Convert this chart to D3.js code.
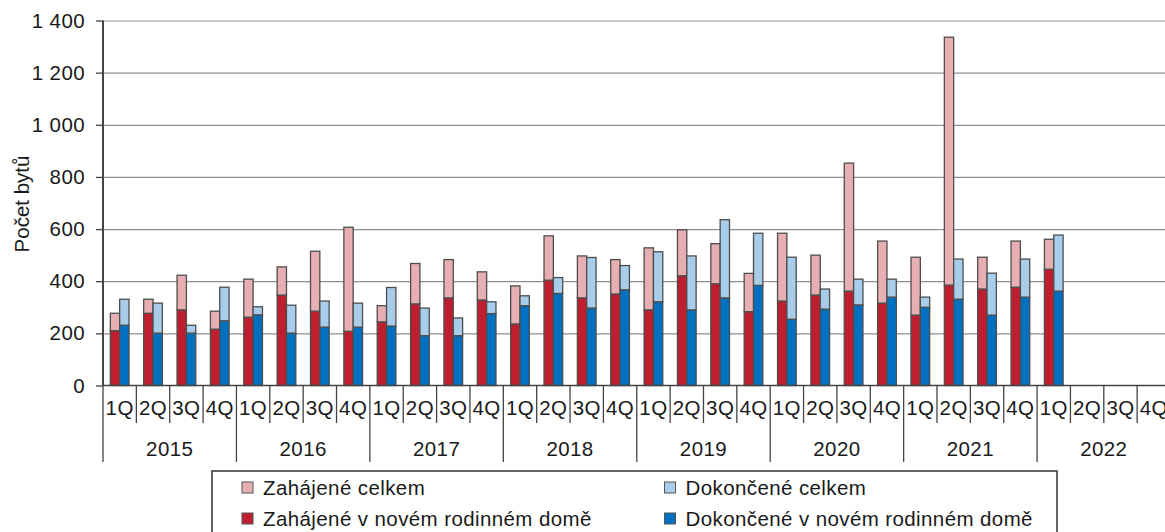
<!DOCTYPE html>
<html>
<head>
<meta charset="utf-8">
<script src="https://cdn.jsdelivr.net/npm/d3@7"></script>
<style>
  html, body { margin: 0; padding: 0; background: #fff; }
  svg text { font-family: "Liberation Sans", Arial, sans-serif; fill: #1a1a1a; }
</style>
</head>
<body>
<svg id="chart" width="1165" height="532"></svg>
<script>
/* ---------------- DATA ---------------- */
const years = ["2015", "2016", "2017", "2018", "2019", "2020", "2021", "2022"];
const quarterLabels = ["1Q", "2Q", "3Q", "4Q"];
const yTicks = [0, 200, 400, 600, 800, 1000, 1200, 1400];

// Zahájené celkem
const startedTotal = [
  277, 331, 423, 285,
  408, 455, 515, 607,
  306, 468, 483, 436,
  382, 574, 497, 483,
  528, 597, 544, 430,
  584, 500, 853, 554,
  492, 1336, 492, 554,
  561, null, null, null
];
// Zahájené v novém rodinném domě
const startedHouse = [
  210, 277, 290, 216,
  262, 347, 285, 208,
  244, 313, 336, 328,
  236, 404, 336, 351,
  290, 421, 390, 283,
  324, 347, 362, 316,
  270, 385, 370, 377,
  446, null, null, null
];
// Dokončené celkem
const finishedTotal = [
  331, 316, 231, 377,
  302, 308, 324, 316,
  376, 297, 259, 321,
  344, 414, 491, 460,
  513, 497, 636, 584,
  492, 370, 408, 408,
  339, 485, 431, 485,
  577, null, null, null
];
// Dokončené v novém rodinném domě
const finishedHouse = [
  231, 201, 201, 248,
  271, 201, 224, 224,
  228, 191, 191, 276,
  306, 353, 297, 367,
  321, 290, 336, 384,
  254, 293, 309, 339,
  300, 331, 270, 339,
  362, null, null, null
];

const legendItems = [
  { label: "Zahájené celkem", color: "#e8afb3", col: 0, row: 0 },
  { label: "Dokončené celkem", color: "#a7cdea", col: 1, row: 0 },
  { label: "Zahájené v novém rodinném domě", color: "#be1e2d", col: 0, row: 1 },
  { label: "Dokončené v novém rodinném domě", color: "#0070c0", col: 1, row: 1 }
];

/* ---------------- SETUP ---------------- */
const svg = d3.select("#chart");
const plotLeft = 103, plotTop = 20.5, plotBottom = 385.5;
const slotCount = years.length * 4;
const plotRight = plotLeft + slotCount * 33.36;   // plot runs past the window edge
const fontSize = "20.5px";

const slots = d3.range(slotCount);
const x0 = d3.scaleBand().domain(slots).range([plotLeft, plotRight])
  .paddingInner(0.44).paddingOuter(0.22);
const x1 = d3.scaleBand().domain(["started", "finished"]).range([0, x0.bandwidth()]);
const y = d3.scaleLinear().domain([0, 1400]).range([plotBottom, plotTop]);

const fmt = d3.formatLocale({ decimal: ",", thousands: "\u00a0", grouping: [3], currency: ["", ""] }).format(",d");

svg.append("rect").attr("width", 1165).attr("height", 532).attr("fill", "#fff");

/* ---------------- GRIDLINES ---------------- */
svg.append("g")
  .attr("transform", `translate(${plotLeft},0)`)
  .call(d3.axisLeft(y).tickValues(yTicks.slice(1)).tickSize(-(plotRight - plotLeft)).tickFormat(""))
  .call(g => g.select(".domain").remove())
  .call(g => g.selectAll("line").attr("stroke", "#8f8f8f").attr("stroke-width", 1.2));

/* ---------------- Y AXIS ---------------- */
svg.append("g")
  .attr("transform", `translate(${plotLeft},0)`)
  .call(d3.axisLeft(y).tickValues(yTicks).tickSize(7).tickPadding(11).tickFormat(fmt))
  .call(g => g.select(".domain").remove())
  .call(g => g.selectAll("line").attr("stroke", "#444").attr("stroke-width", 1.3))
  .call(g => g.selectAll("text").style("font-size", fontSize).attr("letter-spacing", "0.4px")
    .attr("fill", "#1a1a1a"));

svg.append("line")
  .attr("x1", plotLeft).attr("x2", plotLeft).attr("y1", plotTop).attr("y2", plotBottom)
  .attr("stroke", "#444").attr("stroke-width", 2);

svg.append("text")
  .attr("transform", `translate(29,204) rotate(-90)`)
  .attr("text-anchor", "middle")
  .style("font-size", fontSize)
  .text("Počet bytů");

/* ---------------- BARS ---------------- */
const rows = slots.map(i => ({
  i,
  started: [startedHouse[i], startedTotal[i]],
  finished: [finishedHouse[i], finishedTotal[i]]
})).filter(d => d.started[1] != null);

const series = [
  { key: "started", colors: ["#be1e2d", "#e8afb3"] },
  { key: "finished", colors: ["#0070c0", "#a7cdea"] }
];

series.forEach(s => {
  const g = svg.append("g");
  rows.forEach(d => {
    const [part, total] = d[s.key];
    const bx = x0(d.i) + x1(s.key);
    g.append("rect")
      .attr("x", bx).attr("width", x1.bandwidth())
      .attr("y", y(part)).attr("height", y(0) - y(part))
      .attr("fill", s.colors[0]).attr("stroke", "#4d4d4d").attr("stroke-width", 1.3);
    g.append("rect")
      .attr("x", bx).attr("width", x1.bandwidth())
      .attr("y", y(total)).attr("height", y(part) - y(total))
      .attr("fill", s.colors[1]).attr("stroke", "#4d4d4d").attr("stroke-width", 1.3);
  });
});

/* ---------------- X AXIS ---------------- */
svg.append("line")
  .attr("x1", plotLeft).attr("x2", plotRight).attr("y1", plotBottom).attr("y2", plotBottom)
  .attr("stroke", "#444").attr("stroke-width", 1.5);

const edge = i => x0.range()[0] + i * x0.step();

svg.append("g").selectAll("line")
  .data(d3.range(slotCount + 1))
  .join("line")
  .attr("x1", edge).attr("x2", edge)
  .attr("y1", plotBottom)
  .attr("y2", i => i % 4 === 0 ? 462 : 423)
  .attr("stroke", "#444").attr("stroke-width", 1.3);

svg.append("g").selectAll("text")
  .data(slots)
  .join("text")
  .attr("x", i => x0(i) + x0.bandwidth() / 2)
  .attr("y", 415)
  .attr("text-anchor", "middle")
  .attr("letter-spacing", "0.4px")
  .style("font-size", fontSize)
  .text(i => quarterLabels[i % 4]);

svg.append("g").selectAll("text")
  .data(years)
  .join("text")
  .attr("x", (d, k) => (edge(k * 4) + edge(k * 4 + 4)) / 2)
  .attr("y", 456)
  .attr("text-anchor", "middle")
  .attr("letter-spacing", "0.4px")
  .style("font-size", fontSize)
  .text(d => d);

/* ---------------- LEGEND ---------------- */
const legend = svg.append("g");
legend.append("rect")
  .attr("x", 212).attr("y", 471).attr("width", 845).attr("height", 80)
  .attr("fill", "#fff").attr("stroke", "#333").attr("stroke-width", 1.5);

const colX = [242, 664.5];
const rowY = [487.5, 518.5];
const item = legend.selectAll("g.item")
  .data(legendItems)
  .join("g")
  .attr("class", "item")
  .attr("transform", d => `translate(${colX[d.col]},${rowY[d.row]})`);

item.append("rect")
  .attr("x", 0).attr("y", -5.5).attr("width", 11).attr("height", 11)
  .attr("fill", d => d.color).attr("stroke", "#555").attr("stroke-width", 1);

item.append("text")
  .attr("x", 21).attr("y", 7)
  .attr("letter-spacing", "0.4px")
  .style("font-size", fontSize)
  .text(d => d.label);
</script>
</body>
</html>
